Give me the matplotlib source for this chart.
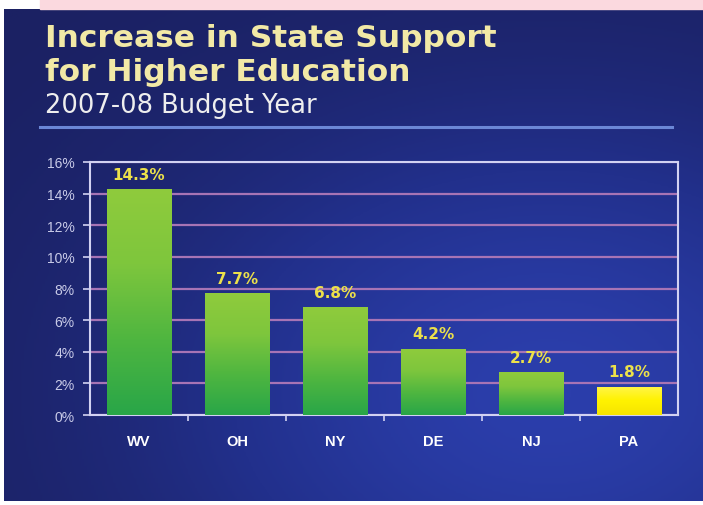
import numpy as np
import matplotlib
matplotlib.use("Agg")
import matplotlib.pyplot as plt
from matplotlib.colors import LinearSegmentedColormap
from matplotlib.ticker import FuncFormatter

# Data
states = ["WV", "OH", "NY", "DE", "NJ", "PA"]
increase = [14.3, 7.7, 6.8, 4.2, 2.7, 1.8]
highlight = "PA"
y_ticks = [0, 2, 4, 6, 8, 10, 12, 14, 16]

W, H = 703, 506
fig = plt.figure(figsize=(W / 100, H / 100), dpi=100)
fig.patch.set_facecolor("white")

# slide background: dark navy with a brighter glow toward the lower right
bg = fig.add_axes([4 / W, 4 / H, 1 - 4 / W, 1 - 14 / H])
bg.set_axis_off()
gx, gy = np.meshgrid(np.linspace(0, 1, 300), np.linspace(0, 1, 300))
glow = np.exp(-(((gx - 0.78) / 0.55) ** 2 + ((gy - 0.78) / 0.55) ** 2))
bg_cmap = LinearSegmentedColormap.from_list("slide", ["#1b2163", "#22308c", "#2b3eab"])
bg.imshow(glow, cmap=bg_cmap, aspect="auto", extent=[0, 1, 0, 1], origin="upper")
bg.set_xlim(0, 1)
bg.set_ylim(0, 1)

# pink strip along the top edge
fig.patches.append(plt.Rectangle((40 / W, 1 - 10 / H), 1 - 40 / W, 10 / H,
                                 transform=fig.transFigure, color="#fbd9df", zorder=0))

# titles
title_col = "#f2e9a6"
fig.text(45 / W, 1 - 47 / H, "Increase in State Support", fontsize=22.5, fontweight="bold",
         color=title_col, family="DejaVu Sans")
fig.text(45 / W, 1 - 81 / H, "for Higher Education", fontsize=22.5, fontweight="bold",
         color=title_col, family="DejaVu Sans")
fig.text(45 / W, 1 - 113 / H, "2007-08 Budget Year", fontsize=18.5, color="#eeeeee",
         family="DejaVu Sans")
fig.add_artist(plt.Line2D([40 / W, 672 / W], [1 - 128 / H, 1 - 128 / H],
                          transform=fig.transFigure, color="#6b87d6", lw=2.2))

# chart
ax = fig.add_axes([90 / W, 1 - 416 / H, 588 / W, 253 / H])
ax.set_facecolor("none")
x = np.arange(len(states))
bars = ax.bar(x, increase, width=0.66, color="none", edgecolor="none", zorder=3)

green = LinearSegmentedColormap.from_list("bar", ["#29a648", "#4fb640", "#7ec63d", "#8fcb3c"])
yellow = LinearSegmentedColormap.from_list("hl", ["#f6e400", "#fff200", "#fff54a"])
ramp = np.linspace(0, 1, 100).reshape(-1, 1)
for bar, name, val in zip(bars, states, increase):
    x0 = bar.get_x()
    cm = yellow if name == highlight else green
    im = ax.imshow(ramp, cmap=cm, aspect="auto", origin="lower",
                   extent=[x0, x0 + bar.get_width(), 0, val], zorder=3)
    im.set_clip_path(bar)
    ax.text(x0 + bar.get_width() / 2, val + 0.45, f"{val:.1f}%", ha="center", va="bottom",
            fontsize=11, fontweight="bold", color="#ece14a", family="DejaVu Sans", zorder=4)
ax.set_xlim(-0.5, len(states) - 0.5)
ax.set_ylim(0, 16)

ax.set_yticks(y_ticks)
ax.yaxis.set_major_formatter(FuncFormatter(lambda v, p: f"{v:.0f}%"))
ax.grid(axis="y", color="#a774b5", lw=1.6, zorder=1)
ax.set_axisbelow(True)
for side in ["left", "right", "top", "bottom"]:
    ax.spines[side].set_color("#d2d2f2")
    ax.spines[side].set_linewidth(1.5)
ax.tick_params(axis="y", colors="#d2d2f2", labelcolor="#c9cbe8", length=5, width=1.2,
               labelsize=10, pad=6)
for lab in ax.get_yticklabels():
    lab.set_family("Liberation Sans")

# category labels centered, tick marks on the boundaries
ax.set_xticks(x)
ax.set_xticklabels(states, fontsize=10.5, fontweight="bold", color="white", family="Liberation Sans")
ax.set_xticks(np.arange(0.5, len(states) - 0.5, 1), minor=True)
ax.tick_params(axis="x", which="major", length=0, pad=14)
ax.tick_params(axis="x", which="minor", length=4, width=1.2, color="#d2d2f2")

fig.savefig("out.png", dpi=100)
